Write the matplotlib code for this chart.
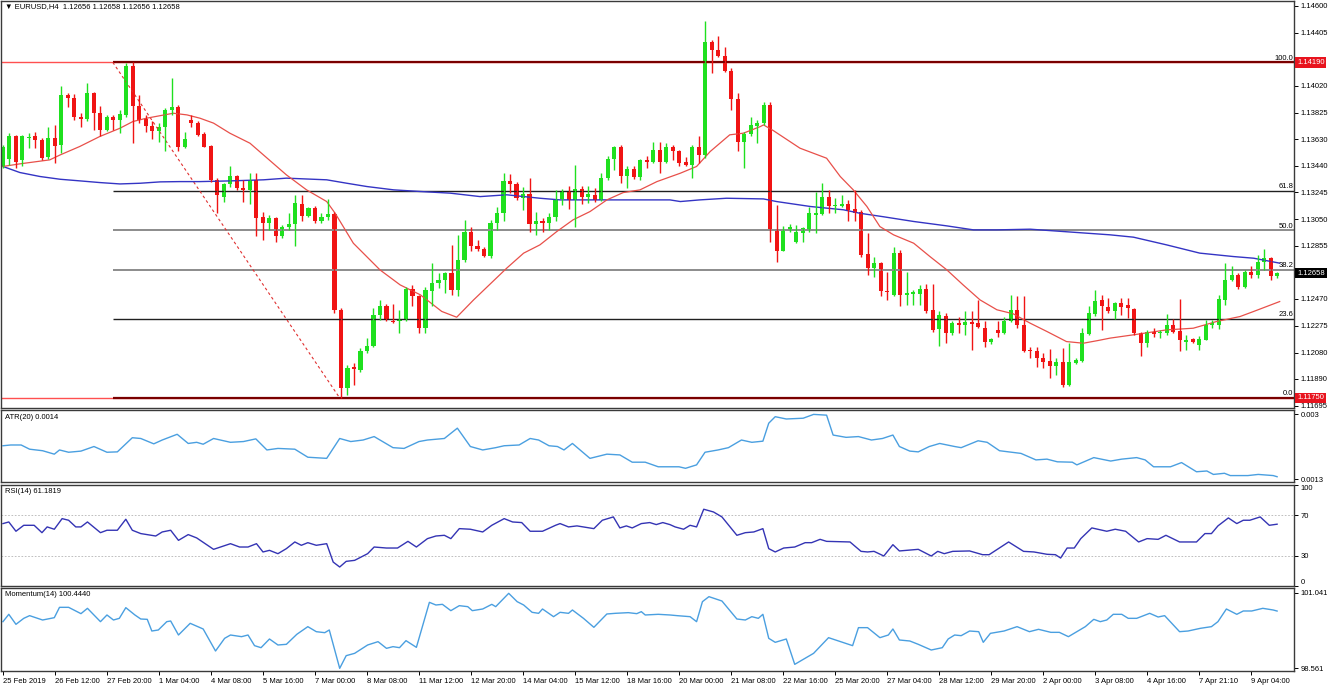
import numpy as np
import matplotlib
matplotlib.use('Agg')
from matplotlib import pyplot as plt
from matplotlib import transforms

plt.rcParams['font.family'] = ['Liberation Sans', 'DejaVu Sans']
plt.rcParams['font.size'] = 5.5

# EURUSD H4 candles, bar 0 = 25 Feb 2019
opens = [1.13433, 1.13486, 1.13651, 1.13481, 1.13641, 1.13651, 1.13626, 1.13500, 1.13643, 1.13590,
         1.13953, 1.13929, 1.13796, 1.13777, 1.13970, 1.13820, 1.13699, 1.13796, 1.13772, 1.13808,
         1.14164, 1.13869, 1.13777, 1.13728, 1.13694, 1.13723, 1.13840, 1.13864, 1.13573, 1.13772,
         1.13752, 1.13670, 1.13583, 1.13336, 1.13214, 1.13306, 1.13365, 1.13275, 1.13263, 1.13336,
         1.13064, 1.13025, 1.13057, 1.12924, 1.12996, 1.13016, 1.13161, 1.13074, 1.13130, 1.13040,
         1.13064, 1.13088, 1.12391, 1.11821, 1.11974, 1.11955, 1.12088, 1.12129, 1.12354, 1.12420,
         1.12313, 1.12313, 1.12318, 1.12541, 1.12492, 1.12257, 1.12524, 1.12584, 1.12609, 1.12657,
         1.12536, 1.12754, 1.12960, 1.12856, 1.12832, 1.12783, 1.13025, 1.13093, 1.13328, 1.13306,
         1.13202, 1.13234, 1.13016, 1.13033, 1.13021, 1.13064, 1.13195, 1.13251, 1.13190, 1.13268,
         1.13214, 1.13227, 1.13190, 1.13348, 1.13486, 1.13578, 1.13365, 1.13413, 1.13360, 1.13481,
         1.13469, 1.13554, 1.13469, 1.13578, 1.13542, 1.13462, 1.13445, 1.13573, 1.13517, 1.14341,
         1.14281, 1.14237, 1.14130, 1.13922, 1.13614, 1.13670, 1.13728, 1.13748, 1.13881, 1.12977,
         1.12822, 1.12972, 1.12887, 1.12948, 1.12972, 1.13081, 1.13088, 1.13210, 1.13142, 1.13147,
         1.13161, 1.13122, 1.13105, 1.12798, 1.12694, 1.12730, 1.12531, 1.12500, 1.12803, 1.12500,
         1.12507, 1.12507, 1.12541, 1.12386, 1.12250, 1.12347, 1.12221, 1.12294, 1.12282, 1.12299,
         1.12294, 1.12257, 1.12160, 1.12245, 1.12221, 1.12313, 1.12386, 1.12282, 1.12100, 1.12095,
         1.12039, 1.12022, 1.11984, 1.12008, 1.11845, 1.12003, 1.12022, 1.12216, 1.12362, 1.12463,
         1.12410, 1.12379, 1.12439, 1.12427, 1.12395, 1.12221, 1.12153, 1.12233, 1.12221, 1.12221,
         1.12282, 1.12240, 1.12160, 1.12177, 1.12136, 1.12173, 1.12282, 1.12282, 1.12463, 1.12604,
         1.12645, 1.12555, 1.12669, 1.12645, 1.12742, 1.12766, 1.12638]
highs = [1.13590, 1.13675, 1.13663, 1.13663, 1.13675, 1.13680, 1.13639, 1.13723, 1.13735, 1.14019,
         1.13966, 1.13961, 1.13820, 1.14038, 1.13978, 1.13873, 1.13808, 1.13808, 1.13844, 1.14188,
         1.14196, 1.13953, 1.13808, 1.13760, 1.13748, 1.13857, 1.14075, 1.13881, 1.13680, 1.13808,
         1.13760, 1.13687, 1.13590, 1.13348, 1.13316, 1.13433, 1.13372, 1.13336, 1.13384, 1.13384,
         1.13105, 1.13081, 1.13069, 1.13009, 1.13093, 1.13227, 1.13227, 1.13137, 1.13142, 1.13093,
         1.13195, 1.13105, 1.12403, 1.11991, 1.12003, 1.12112, 1.12185, 1.12403, 1.12463, 1.12434,
         1.12434, 1.12391, 1.12555, 1.12572, 1.12500, 1.12555, 1.12730, 1.12657, 1.12669, 1.12863,
         1.12936, 1.13045, 1.12996, 1.12899, 1.12851, 1.13045, 1.13137, 1.13384, 1.13379, 1.13323,
         1.13287, 1.13348, 1.13105, 1.13057, 1.13093, 1.13263, 1.13268, 1.13292, 1.13445, 1.13292,
         1.13292, 1.13275, 1.13384, 1.13510, 1.13583, 1.13590, 1.13433, 1.13433, 1.13486, 1.13510,
         1.13614, 1.13614, 1.13602, 1.13590, 1.13554, 1.13505, 1.13590, 1.13655, 1.14487, 1.14353,
         1.14382, 1.14305, 1.14147, 1.13966, 1.13687, 1.13791, 1.13772, 1.13905, 1.13905, 1.13154,
         1.13001, 1.13016, 1.13009, 1.12996, 1.13137, 1.13244, 1.13311, 1.13263, 1.13202, 1.13227,
         1.13190, 1.13263, 1.13118, 1.12948, 1.12778, 1.12742, 1.12669, 1.12851, 1.12827, 1.12669,
         1.12536, 1.12572, 1.12580, 1.12580, 1.12379, 1.12366, 1.12306, 1.12342, 1.12379, 1.12379,
         1.12459, 1.12306, 1.12185, 1.12313, 1.12342, 1.12500, 1.12492, 1.12488, 1.12124, 1.12124,
         1.12076, 1.12105, 1.12039, 1.12112, 1.12153, 1.12039, 1.12257, 1.12415, 1.12536, 1.12500,
         1.12475, 1.12451, 1.12475, 1.12475, 1.12403, 1.12233, 1.12245, 1.12257, 1.12245, 1.12362,
         1.12323, 1.12468, 1.12209, 1.12185, 1.12197, 1.12318, 1.12318, 1.12500, 1.12730, 1.12706,
         1.12657, 1.12677, 1.12706, 1.12790, 1.12832, 1.12778, 1.12669]
lows = [1.13420, 1.13445, 1.13420, 1.13433, 1.13566, 1.13566, 1.13481, 1.13486, 1.13457, 1.13534,
        1.13864, 1.13772, 1.13723, 1.13767, 1.13699, 1.13651, 1.13694, 1.13699, 1.13675, 1.13796,
        1.13602, 1.13748, 1.13687, 1.13631, 1.13614, 1.13542, 1.13808, 1.13542, 1.13566, 1.13718,
        1.13651, 1.13573, 1.13323, 1.13093, 1.13178, 1.13287, 1.13263, 1.13178, 1.13161, 1.12924,
        1.12895, 1.12972, 1.12887, 1.12912, 1.12972, 1.12856, 1.13033, 1.13069, 1.13025, 1.13025,
        1.13045, 1.12366, 1.11749, 1.11773, 1.11845, 1.11942, 1.12076, 1.12124, 1.12318, 1.12306,
        1.12294, 1.12221, 1.12313, 1.12415, 1.12221, 1.12221, 1.12415, 1.12548, 1.12512, 1.12500,
        1.12488, 1.12742, 1.12822, 1.12822, 1.12778, 1.12766, 1.12972, 1.13033, 1.13239, 1.13190,
        1.13118, 1.12953, 1.12936, 1.12960, 1.12972, 1.13033, 1.13154, 1.13122, 1.12996, 1.13161,
        1.13171, 1.13178, 1.13185, 1.13336, 1.13408, 1.13311, 1.13275, 1.13340, 1.13336, 1.13420,
        1.13457, 1.13384, 1.13457, 1.13481, 1.13433, 1.13437, 1.13348, 1.13457, 1.13493, 1.14111,
        1.14227, 1.14123, 1.13844, 1.13542, 1.13420, 1.13651, 1.13607, 1.13735, 1.12887, 1.12742,
        1.12815, 1.12960, 1.12875, 1.12887, 1.12960, 1.12948, 1.13081, 1.13093, 1.13093, 1.13137,
        1.13033, 1.13033, 1.12778, 1.12645, 1.12633, 1.12488, 1.12463, 1.12488, 1.12415, 1.12427,
        1.12427, 1.12427, 1.12366, 1.12233, 1.12129, 1.12148, 1.12209, 1.12221, 1.12209, 1.12100,
        1.12257, 1.12124, 1.12144, 1.12192, 1.12216, 1.12299, 1.12257, 1.12081, 1.12039, 1.11974,
        1.11967, 1.11894, 1.11918, 1.11829, 1.11838, 1.11998, 1.12015, 1.12209, 1.12347, 1.12245,
        1.12366, 1.12323, 1.12354, 1.12330, 1.12209, 1.12056, 1.12124, 1.12192, 1.12185, 1.12209,
        1.12221, 1.12088, 1.12100, 1.12148, 1.12100, 1.12168, 1.12257, 1.12250, 1.12427, 1.12597,
        1.12541, 1.12548, 1.12621, 1.12621, 1.12677, 1.12609, 1.12621]
closes = [1.13578, 1.13651, 1.13469, 1.13651, 1.13648, 1.13622, 1.13493, 1.13639, 1.13585, 1.13953,
          1.13929, 1.13791, 1.13777, 1.13970, 1.13820, 1.13699, 1.13796, 1.13772, 1.13815, 1.14164,
          1.13869, 1.13772, 1.13728, 1.13694, 1.13723, 1.13844, 1.13864, 1.13573, 1.13631, 1.13752,
          1.13663, 1.13578, 1.13336, 1.13222, 1.13306, 1.13365, 1.13275, 1.13263, 1.13336, 1.13057,
          1.13025, 1.13057, 1.12924, 1.12996, 1.13016, 1.13166, 1.13074, 1.13130, 1.13040, 1.13069,
          1.13088, 1.12391, 1.11821, 1.11967, 1.11959, 1.12095, 1.12129, 1.12354, 1.12420, 1.12318,
          1.12299, 1.12323, 1.12541, 1.12488, 1.12257, 1.12536, 1.12584, 1.12609, 1.12657, 1.12536,
          1.12754, 1.12960, 1.12856, 1.12832, 1.12783, 1.13025, 1.13093, 1.13328, 1.13306, 1.13202,
          1.13234, 1.13016, 1.13033, 1.13021, 1.13064, 1.13195, 1.13251, 1.13190, 1.13268, 1.13214,
          1.13234, 1.13190, 1.13348, 1.13486, 1.13578, 1.13365, 1.13413, 1.13360, 1.13481, 1.13469,
          1.13554, 1.13469, 1.13578, 1.13542, 1.13457, 1.13445, 1.13573, 1.13517, 1.14341, 1.14281,
          1.14237, 1.14130, 1.13922, 1.13614, 1.13670, 1.13735, 1.13748, 1.13881, 1.12977, 1.12822,
          1.12972, 1.12996, 1.12953, 1.12984, 1.13093, 1.13093, 1.13210, 1.13142, 1.13154, 1.13161,
          1.13118, 1.13098, 1.12790, 1.12694, 1.12730, 1.12524, 1.12517, 1.12803, 1.12500, 1.12512,
          1.12517, 1.12541, 1.12379, 1.12245, 1.12354, 1.12221, 1.12294, 1.12282, 1.12299, 1.12289,
          1.12265, 1.12160, 1.12177, 1.12221, 1.12313, 1.12386, 1.12282, 1.12088, 1.12088, 1.12039,
          1.12015, 1.11979, 1.12008, 1.11845, 1.12008, 1.12027, 1.12221, 1.12366, 1.12456, 1.12415,
          1.12379, 1.12439, 1.12410, 1.12403, 1.12221, 1.12153, 1.12233, 1.12216, 1.12233, 1.12282,
          1.12233, 1.12168, 1.12173, 1.12160, 1.12177, 1.12282, 1.12294, 1.12468, 1.12609, 1.12645,
          1.12555, 1.12669, 1.12645, 1.12742, 1.12766, 1.12638, 1.12658]

# moving averages: (bar, price)
ma_red = [(0, 1.13433), (2.6, 1.13452), (7.2, 1.13481), (8.8, 1.13517), (11.8, 1.13578), (14.9, 1.13651),
          (18.0, 1.13711), (20.0, 1.13760), (22.1, 1.13784), (26.2, 1.13820), (28.3, 1.13808), (30.3, 1.13784),
          (32.4, 1.13748), (34.9, 1.13675), (38.0, 1.13602), (43.6, 1.13372), (46.7, 1.13263), (49.8, 1.13178),
          (51.1, 1.13093), (53.9, 1.12875), (58.0, 1.12681), (61.1, 1.12572), (64.2, 1.12500), (67.5, 1.12379),
          (69.8, 1.12337), (72.4, 1.12463), (77.5, 1.12694), (80.1, 1.12803), (82.6, 1.12863), (85.2, 1.12960),
          (87.7, 1.13045), (90.3, 1.13105), (92.9, 1.13190), (95.4, 1.13243), (98.0, 1.13263), (100.6, 1.13323),
          (104.2, 1.13384), (106.7, 1.13433), (108.8, 1.13542), (111.8, 1.13663), (113.9, 1.13675),
          (116.5, 1.13723), (117.0, 1.13735), (118.5, 1.13694), (122.6, 1.13566), (126.7, 1.13493),
          (128.8, 1.13360), (130.8, 1.13263), (132.9, 1.13142), (134.9, 1.12996), (137.0, 1.12936),
          (140.1, 1.12875), (142.6, 1.12778), (145.2, 1.12681), (147.7, 1.12572), (150.3, 1.12463),
          (152.9, 1.12391), (155.4, 1.12362), (158.0, 1.12294), (160.6, 1.12233), (163.6, 1.12160),
          (166.2, 1.12148), (168.5, 1.12168), (170.3, 1.12185), (173.9, 1.12209), (179.0, 1.12245),
          (183.1, 1.12257), (186.7, 1.12306), (190.3, 1.12342), (192.4, 1.12379), (194.4, 1.12415),
          (196.4, 1.12451)]
ma_blue = [(0, 1.13433), (2.6, 1.13389), (5.7, 1.13360), (8.8, 1.13340), (11.9, 1.13328), (14.9, 1.13316),
           (18.0, 1.13306), (21.1, 1.13311), (24.2, 1.13321), (27.2, 1.13323), (30.3, 1.13323), (34.9, 1.13328),
           (40.1, 1.13336), (43.6, 1.13348), (49.8, 1.13336), (52.9, 1.13311), (56.0, 1.13287), (60.1, 1.13263),
           (64.2, 1.13251), (68.8, 1.13239), (73.4, 1.13214), (77.5, 1.13227), (82.6, 1.13202), (85.7, 1.13190),
           (90.3, 1.13190), (102.6, 1.13190), (104.2, 1.13178), (107.2, 1.13190), (111.3, 1.13202),
           (117.0, 1.13197), (119.0, 1.13178), (124.2, 1.13142), (129.3, 1.13118), (131.8, 1.13093),
           (135.5, 1.13067), (140.1, 1.13033), (145.2, 1.13001), (149.3, 1.12972), (152.9, 1.12972),
           (158.0, 1.12977), (163.1, 1.12960), (170.3, 1.12936), (173.9, 1.12919), (179.0, 1.12863),
           (184.1, 1.12803), (189.3, 1.12778), (192.4, 1.12766), (196.4, 1.12730)]

atr = [(0, 0.00217), (1.2, 0.00219), (2.8, 0.00219), (4.1, 0.00208), (6.1, 0.00204), (7.9, 0.00195),
       (8.7, 0.00206), (10.1, 0.00200), (12.0, 0.00203), (14.0, 0.00215), (16.0, 0.00200), (17.6, 0.00201),
       (19.9, 0.00238), (21.2, 0.00236), (23.2, 0.00222), (24.5, 0.00232), (26.8, 0.00247), (28.5, 0.00223),
       (29.8, 0.00226), (30.8, 0.00221), (32.4, 0.00236), (35.0, 0.00226), (37.0, 0.00228), (38.9, 0.00235),
       (40.6, 0.00206), (42.3, 0.00210), (44.9, 0.00208), (46.9, 0.00187), (49.8, 0.00184), (51.8, 0.00236),
       (53.5, 0.00228), (55.4, 0.00232), (57.1, 0.00241), (60.0, 0.00212), (61.7, 0.00210), (64.0, 0.00228),
       (65.3, 0.00232), (67.9, 0.00236), (69.9, 0.00263), (71.9, 0.00215), (73.8, 0.00206), (75.8, 0.00212),
       (77.1, 0.00217), (79.4, 0.00219), (81.1, 0.00236), (82.4, 0.00232), (84.0, 0.00217), (85.3, 0.00215),
       (86.3, 0.00206), (87.6, 0.00223), (90.3, 0.00184), (92.9, 0.00195), (94.9, 0.00193), (96.8, 0.00174),
       (98.8, 0.00174), (100.8, 0.00162), (102.6, 0.00162), (104.0, 0.00162), (105.0, 0.00158),
       (106.7, 0.00167), (108.0, 0.00200), (110.0, 0.00206), (111.6, 0.00212), (113.6, 0.00232),
       (115.2, 0.00226), (116.9, 0.00229), (117.8, 0.00276), (118.8, 0.00293), (120.5, 0.00287),
       (123.1, 0.00289), (124.7, 0.00299), (126.7, 0.00297), (127.7, 0.00245), (129.7, 0.00239),
       (131.6, 0.00241), (133.6, 0.00232), (135.3, 0.00236), (136.9, 0.00245), (137.9, 0.00215),
       (139.5, 0.00203), (140.8, 0.00201), (142.5, 0.00215), (144.1, 0.00223), (146.4, 0.00215),
       (147.4, 0.00212), (150.0, 0.00230), (151.4, 0.00226), (153.3, 0.00204), (154.7, 0.00201),
       (156.6, 0.00197), (158.9, 0.00180), (160.6, 0.00182), (162.2, 0.00175), (164.5, 0.00174),
       (165.2, 0.00167), (167.8, 0.00186), (170.4, 0.00177), (172.1, 0.00182), (174.4, 0.00186),
       (175.7, 0.00180), (177.0, 0.00162), (179.6, 0.00162), (181.3, 0.00173), (183.6, 0.00149),
       (185.2, 0.00151), (186.2, 0.00142), (187.9, 0.00145), (188.8, 0.00139), (191.5, 0.00139),
       (193.1, 0.00142), (195.4, 0.00139), (196.0, 0.00136)]

rsi = [(0, 61.8), (0.9, 63.4), (2.0, 54.2), (3.2, 60.1), (4.8, 60.1), (6.0, 52.8), (6.8, 58.5), (7.9, 56.2),
       (9.1, 66.7), (10.1, 65.1), (11.2, 58.5), (12.0, 58.5), (13.0, 63.4), (15.0, 52.8), (16.0, 55.2),
       (17.6, 55.2), (18.9, 66.1), (19.9, 55.2), (21.2, 51.9), (23.5, 49.5), (24.5, 53.5), (25.8, 55.2),
       (27.0, 45.2), (28.5, 50.9), (29.8, 47.6), (32.4, 36.3), (35.0, 41.9), (36.4, 38.6), (37.7, 38.6),
       (39.0, 41.9), (40.0, 33.7), (41.0, 35.3), (42.3, 32.0), (43.6, 37.0), (44.9, 43.6), (45.9, 40.3),
       (46.9, 42.9), (48.2, 40.3), (49.8, 41.9), (50.8, 23.7), (51.8, 18.8), (52.8, 24.4), (54.1, 25.4),
       (56.1, 32.0), (57.1, 38.6), (59.0, 37.6), (60.7, 37.6), (62.3, 44.2), (63.6, 38.6), (65.3, 46.9),
       (66.6, 49.5), (67.9, 50.2), (68.9, 46.9), (70.2, 56.8), (71.9, 56.2), (73.8, 53.5), (75.2, 60.1),
       (77.1, 66.7), (78.4, 63.4), (79.8, 62.8), (81.1, 54.2), (83.0, 54.2), (85.0, 60.1), (85.7, 61.8),
       (87.0, 58.5), (88.3, 59.5), (89.3, 58.5), (90.9, 56.8), (92.2, 65.1), (93.9, 68.4), (94.9, 57.5),
       (95.9, 59.5), (96.8, 57.5), (98.2, 61.8), (99.5, 62.8), (100.5, 60.8), (101.5, 62.8), (102.6, 60.8),
       (103.4, 58.5), (104.7, 56.2), (105.7, 60.1), (106.7, 58.5), (107.8, 76.0), (109.3, 73.3),
       (110.6, 68.4), (112.9, 50.2), (114.2, 52.8), (115.5, 53.5), (116.9, 56.8), (117.8, 37.0),
       (118.8, 33.7), (120.1, 37.6), (121.8, 38.6), (123.4, 42.9), (124.4, 42.9), (125.7, 46.2),
       (126.7, 44.2), (130.3, 43.6), (132.0, 34.3), (133.0, 33.7), (134.0, 34.3), (135.5, 29.7),
       (136.9, 40.9), (137.9, 34.7), (140.8, 36.3), (142.8, 29.7), (143.8, 34.3), (144.8, 32.0),
       (146.1, 34.3), (148.7, 34.7), (150.7, 31.0), (151.7, 31.0), (154.7, 43.6), (157.0, 34.3),
       (158.6, 33.7), (160.6, 31.4), (161.9, 31.0), (162.7, 27.7), (163.7, 37.6), (164.8, 37.6),
       (165.8, 46.9), (167.5, 57.5), (169.8, 54.2), (171.1, 56.2), (172.7, 54.2), (174.7, 43.6),
       (176.0, 46.9), (177.7, 46.2), (178.9, 50.2), (181.0, 43.6), (183.6, 43.6), (184.9, 51.9),
       (185.9, 51.9), (186.9, 59.5), (188.5, 67.4), (189.8, 61.8), (190.8, 65.1), (191.8, 65.1),
       (193.4, 68.4), (194.8, 60.1), (196.0, 61.2)]

momentum = [(0, 100.093), (0.9, 100.336), (2.0, 100.005), (3.2, 100.203), (4.1, 100.292), (6.1, 100.148),
            (7.9, 100.225), (8.7, 100.567), (10.1, 100.567), (12.0, 100.358), (13.0, 100.534), (15.0, 100.093),
            (16.0, 100.314), (17.0, 100.148), (17.9, 100.203), (18.9, 100.556), (20.3, 100.314), (21.2, 100.181),
            (22.2, 100.170), (22.9, 99.784), (23.9, 99.818), (25.2, 100.093), (25.8, 100.115), (27.0, 99.652),
            (28.8, 100.038), (30.8, 99.851), (32.7, 99.123), (34.1, 99.542), (35.0, 99.652), (36.7, 99.597),
            (37.7, 99.652), (38.7, 99.300), (39.7, 99.233), (41.0, 99.520), (42.3, 99.322), (43.6, 99.344),
            (45.2, 99.674), (46.9, 99.928), (48.2, 99.762), (49.5, 99.729), (50.2, 99.818), (51.8, 98.550),
            (52.8, 98.969), (54.1, 99.046), (56.1, 99.322), (57.7, 99.432), (59.0, 99.211), (60.0, 99.267),
            (61.0, 99.233), (62.0, 99.465), (63.6, 99.244), (65.6, 100.732), (66.6, 100.644), (67.6, 100.666),
            (68.9, 100.457), (70.2, 100.622), (71.5, 100.589), (72.2, 100.457), (73.8, 100.512), (75.2, 100.666),
            (75.8, 100.589), (77.8, 101.030), (79.1, 100.754), (80.1, 100.644), (81.4, 100.402), (82.4, 100.369),
            (83.0, 100.512), (84.7, 100.258), (85.7, 100.402), (87.0, 100.369), (87.6, 100.479), (89.3, 100.203),
            (90.9, 99.906), (92.9, 100.347), (94.2, 100.369), (96.2, 100.391), (97.5, 100.358), (98.2, 100.424),
            (98.8, 100.314), (100.8, 100.336), (102.6, 100.314), (103.7, 100.292), (105.7, 100.258),
            (106.7, 100.093), (107.6, 100.754), (108.6, 100.920), (110.6, 100.776), (112.9, 100.181),
            (114.2, 100.148), (115.2, 100.258), (116.2, 100.203), (116.9, 100.336), (117.8, 99.542),
            (118.8, 99.410), (120.5, 99.520), (121.8, 98.682), (124.7, 99.046), (127.0, 99.564), (130.7, 99.300),
            (131.6, 99.895), (133.0, 99.895), (134.9, 99.564), (136.2, 99.652), (136.9, 99.851), (137.9, 99.487),
            (139.5, 99.454), (140.8, 99.344), (142.8, 99.156), (144.5, 99.233), (145.4, 99.520), (146.4, 99.652),
            (147.4, 99.630), (148.7, 99.784), (150.1, 99.762), (150.8, 99.410), (151.9, 99.707), (154.0, 99.784),
            (156.0, 99.928), (157.9, 99.762), (159.3, 99.840), (161.2, 99.740), (162.5, 99.740), (163.9, 99.597),
            (165.2, 99.762), (166.5, 99.928), (167.1, 100.038), (167.8, 100.170), (168.8, 100.093),
            (169.8, 100.148), (170.8, 100.336), (172.1, 100.336), (173.1, 100.203), (174.4, 100.203),
            (176.4, 100.369), (177.7, 100.247), (178.7, 100.292), (181.0, 99.762), (182.3, 99.784),
            (184.2, 99.873), (185.9, 99.928), (186.9, 100.093), (188.2, 100.512), (189.8, 100.336),
            (190.8, 100.446), (192.1, 100.446), (193.8, 100.534), (195.4, 100.479), (196.0, 100.444)]

price_ticks = [1.14600, 1.14405, 1.14020, 1.13825, 1.13630, 1.13440, 1.13245, 1.13050,
               1.12855, 1.12470, 1.12275, 1.12080, 1.11890, 1.11695]
date_labels = ['25 Feb 2019', '26 Feb 12:00', '27 Feb 20:00', '1 Mar 04:00', '4 Mar 08:00',
               '5 Mar 16:00', '7 Mar 00:00', '8 Mar 08:00', '11 Mar 12:00', '12 Mar 20:00',
               '14 Mar 04:00', '15 Mar 12:00', '18 Mar 16:00', '20 Mar 00:00', '21 Mar 08:00',
               '22 Mar 16:00', '25 Mar 20:00', '27 Mar 04:00', '28 Mar 12:00', '29 Mar 20:00',
               '2 Apr 00:00', '3 Apr 08:00', '4 Apr 16:00', '7 Apr 21:10', '9 Apr 04:00']

# fibonacci retracement
fib_high, fib_low = 1.14190, 1.11750
fib_bars = (16.9, 51.8)
fib_levels = [0.0, 23.6, 38.2, 50.0, 61.8, 100.0]
fib_colors = ['#7a0000', '#202020', '#8c8c8c', '#8c8c8c', '#202020', '#7a0000']
last_price = 1.12658

W, H = 1332, 689
BULL, BEAR = '#1fe01f', '#f01414'
XLIM = (-0.3, 198.6)


def panel(fig, top, bottom):
    ax = fig.add_axes([1 / W, 1 - bottom / H, 1293 / W, (bottom - top) / H])
    ax.set_xlim(*XLIM)
    ax.set_xticks([])
    ax.yaxis.tick_right()
    ax.tick_params(axis='y', length=3, width=0.7, pad=2, labelsize=5.5)
    for s in ax.spines.values():
        s.set_color('#3a3a3a')
        s.set_linewidth(1)
    return ax


def draw_candles(ax):
    o, h, l, c = (np.array(v) for v in (opens, highs, lows, closes))
    x = np.arange(len(c))
    col = np.where(c >= o, BULL, BEAR)
    ax.vlines(x, l, h, colors=col, lw=1)
    body = np.maximum(np.abs(c - o), 0.00006)
    ax.bar(x, body, bottom=np.minimum(o, c), width=0.62, color=col, lw=0)


def price_box(ax, y, text, fc):
    tr = transforms.blended_transform_factory(ax.transAxes, ax.transData)
    ax.text(1 + 3 / 1293, y, text, transform=tr, ha='left', va='center', color='white',
            fontsize=5.5, bbox=dict(boxstyle='square,pad=0.25', fc=fc, ec='none'), zorder=10)


def draw_fib(ax):
    tr = transforms.blended_transform_factory(ax.transAxes, ax.transData)
    ax.axhline(fib_high, color='#ff5050', lw=1)
    ax.axhline(fib_low, color='#ff5050', lw=1)
    for lev, colr in zip(fib_levels, fib_colors):
        p = fib_low + (fib_high - fib_low) * lev / 100
        lw = 1.6 if lev in (0.0, 100.0) else (1.4 if colr == '#8c8c8c' else 1.0)
        ax.hlines(p, fib_bars[0], XLIM[1], color=colr, lw=lw)
        ax.text(0.9995, p + 0.00004, '%.1f' % lev, transform=tr, ha='right', va='bottom', fontsize=5.5)
    ax.plot(fib_bars, [fib_high, fib_low], color='#e03030', lw=0.8, ls=(0, (2.5, 2.5)))


def main():
    assert len(opens) == len(highs) == len(lows) == len(closes)
    fig = plt.figure(figsize=(W / 100, H / 100), dpi=100)

    ax = panel(fig, 1, 408)
    ax.set_ylim(1.11677, 1.14636)
    draw_fib(ax)
    ax.plot(*zip(*ma_blue), color='#3434c4', lw=1)
    ax.plot(*zip(*ma_red), color='#e8504a', lw=0.9)
    draw_candles(ax)
    ax.set_yticks(price_ticks)
    ax.set_yticklabels(['%.5f' % t for t in price_ticks])
    price_box(ax, fib_high, '%.5f' % fib_high, '#e8141e')
    price_box(ax, fib_low, '%.5f' % fib_low, '#e8141e')
    price_box(ax, last_price, '%.5f' % last_price, '#000000')
    ax.text(4 / 1293, 1 - 2 / 407, '\u25bc EURUSD,H4  1.12656 1.12658 1.12656 1.12658',
            transform=ax.transAxes, ha='left', va='top', fontsize=5.5)

    ax_atr = panel(fig, 410, 482)
    ax_atr.set_ylim(0.001222, 0.003105)
    ax_atr.plot(*zip(*atr), color='#4a9fe0', lw=1)
    ax_atr.set_yticks([0.003, 0.0013])
    ax_atr.set_yticklabels(['0.003', '0.0013'])
    ax_atr.text(4 / 1293, 1 - 4 / 72, 'ATR(20) 0.0014', transform=ax_atr.transAxes,
                ha='left', va='top', fontsize=5.5)

    ax_rsi = panel(fig, 485, 586)
    ax_rsi.set_ylim(0, 100)
    for lev in (70, 30):
        ax_rsi.axhline(lev, color='#b4b4b4', lw=0.6, ls=(0, (2, 2)))
    ax_rsi.plot(*zip(*rsi), color='#3434b4', lw=1)
    ax_rsi.set_yticks([100, 70, 30, 0])
    ax_rsi.set_yticklabels(['100', '70', '30', '0'])
    labs = ax_rsi.get_yticklabels()
    labs[0].set_va('top')
    labs[-1].set_va('bottom')
    ax_rsi.text(4 / 1293, 1 - 3 / 101, 'RSI(14) 61.1819', transform=ax_rsi.transAxes,
                ha='left', va='top', fontsize=5.5)

    ax_mom = panel(fig, 588, 671)
    ax_mom.set_ylim(98.462, 101.206)
    ax_mom.plot(*zip(*momentum), color='#4a9fe0', lw=1)
    ax_mom.set_yticks([101.041, 98.561])
    ax_mom.set_yticklabels(['101.041', '98.561'])
    ax_mom.text(4 / 1293, 1 - 3 / 83, 'Momentum(14) 100.4440', transform=ax_mom.transAxes,
                ha='left', va='top', fontsize=5.5)
    ax_mom.set_xticks(np.arange(len(date_labels)) * 8)
    ax_mom.set_xticklabels(date_labels, ha='left', fontsize=5.5)
    ax_mom.tick_params(axis='x', length=3, width=0.7, pad=2)

    fig.savefig('out.png', dpi=100, facecolor='white')


if __name__ == '__main__':
    main()
